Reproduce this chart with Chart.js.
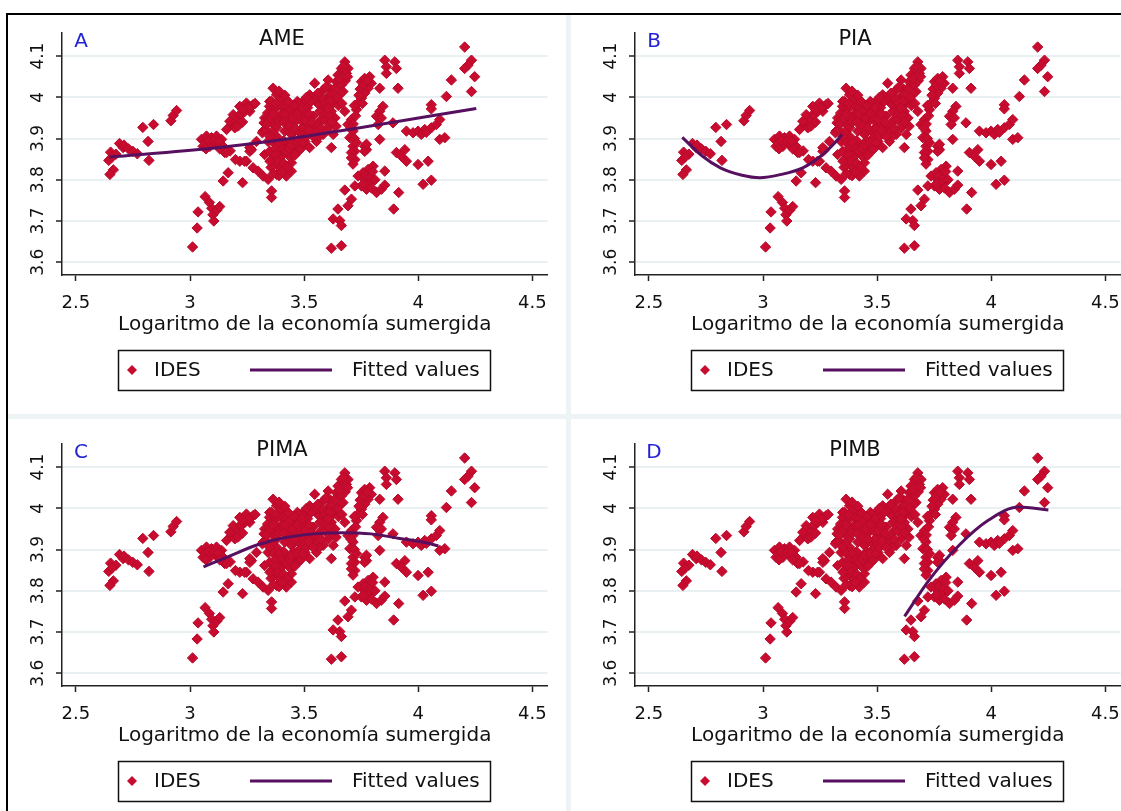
<!DOCTYPE html>
<html lang="es">
<head>
<meta charset="UTF-8">
<title>IDES y economía sumergida</title>
<script src="https://cdn.jsdelivr.net/npm/chart.js@4.4.1/dist/chart.umd.min.js"></script>
<style>
    html, body { margin: 0; padding: 0; background: #fff; }
    #page { position: relative; width: 1121px; height: 811px; overflow: hidden; background: #fff; }
    .panel { position: absolute; width: 560px; height: 415px; }
    .panel canvas { display: block; }
    .rule { position: absolute; }
</style>
<script>
// IDES (y) against log of the shadow economy (x); the same cloud in all four panels
const ides = [
    [2.644,3.847],[2.652,3.867],[2.664,3.824],[2.649,3.813],[2.675,3.862],[2.658,3.855],
    [2.691,3.888],[2.707,3.878],[2.711,3.884],[2.730,3.875],[2.749,3.869],[2.769,3.863],
    [2.793,3.927],[2.840,3.934],[2.816,3.893],[2.820,3.847],[2.916,3.943],[2.926,3.956],[2.941,3.968],
    [3.011,3.637],[3.031,3.683],[3.035,3.722],[3.066,3.759],[3.085,3.745],[3.095,3.731],
    [3.100,3.715],[3.104,3.700],[3.117,3.726],[3.130,3.735],
    [3.050,3.898],[3.072,3.906],[3.094,3.902],[3.116,3.906],[3.138,3.898],[3.057,3.881],
    [3.087,3.881],[3.116,3.886],[3.145,3.881],[3.152,3.866],[3.176,3.870],
    [3.065,3.890],[3.080,3.895],[3.105,3.893],[3.125,3.892],[3.070,3.875],[3.130,3.875],
    [3.160,3.922],[3.182,3.934],[3.196,3.946],[3.218,3.958],[3.189,3.958],[3.218,3.978],
    [3.247,3.986],[3.276,3.982],[3.262,3.966],[3.225,3.958],[3.174,3.942],[3.196,3.926],
    [3.240,3.966],[3.269,3.978],[3.255,3.975],[3.285,3.985],[3.230,3.970],[3.210,3.930],[3.230,3.940],
    [3.167,3.817],[3.145,3.797],[3.230,3.793],[3.218,3.845],[3.247,3.845],[3.262,3.869],
    [3.160,3.866],[3.276,3.829],[3.298,3.821],[3.320,3.809],[3.342,3.801],[3.357,3.773],
    [3.357,3.757],[3.327,3.861],[3.349,3.869],[3.371,3.841],[3.379,3.813],[3.401,3.857],
    [3.393,3.829],[3.422,3.809],[3.444,3.821],[3.444,3.841],[3.269,3.873],[3.291,3.893],
    [3.262,3.878],[3.199,3.849],[3.239,3.845],
    [3.364,4.022],[3.379,4.006],[3.401,3.990],[3.349,3.990],[3.327,3.950],[3.357,3.938],
    [3.379,3.926],[3.320,3.918],[3.342,3.893],[3.401,3.958],[3.430,3.950],[3.451,3.966],
    [3.473,3.978],[3.495,3.990],[3.524,4.006],[3.546,4.034],[3.583,4.018],[3.605,4.042],
    [3.612,4.006],[3.415,3.918],[3.444,3.910],[3.473,3.918],[3.510,3.934],[3.539,3.954],
    [3.568,3.966],[3.590,3.978],[3.619,3.966],[3.503,3.893],[3.524,3.878],[3.554,3.893],
    [3.583,3.910],[3.605,3.926],[3.627,3.910],[3.393,3.873],[3.422,3.886],[3.466,3.878],
    [3.451,3.861],[3.317,3.914],[3.332,3.922],[3.324,3.938],[3.340,3.962],[3.348,3.978],
    [3.395,3.990],[3.356,3.990],[3.402,3.978],[3.371,3.970],[3.402,3.958],
    [3.420,3.975],[3.435,3.930],[3.460,3.940],[3.480,3.955],[3.490,3.925],[3.455,3.895],
    [3.475,3.870],[3.430,3.860],[3.410,3.895],[3.380,3.905],[3.360,3.915],[3.500,3.960],
    [3.515,3.975],[3.530,3.925],[3.555,3.930],[3.575,3.945],[3.560,3.985],[3.545,3.995],
    [3.590,3.945],[3.600,3.995],[3.625,3.985],[3.635,3.950],[3.640,3.930],[3.500,3.910],
    [3.480,3.900],
    [3.380,3.950],[3.390,3.940],[3.410,3.940],[3.420,3.960],[3.440,3.970],[3.450,3.950],
    [3.460,3.925],[3.470,3.960],[3.485,3.945],[3.490,3.975],[3.505,3.945],[3.520,3.960],
    [3.535,3.940],[3.550,3.915],[3.565,3.905],[3.575,3.925],[3.585,3.990],[3.595,3.960],
    [3.610,3.955],[3.620,3.940],[3.630,3.995],[3.615,4.020],[3.595,4.025],[3.575,4.000],
    [3.560,4.010],[3.530,3.990],[3.510,4.000],[3.470,3.990],[3.455,3.980],[3.430,3.990],
    [3.415,4.005],[3.390,4.015],[3.375,3.985],[3.365,3.960],[3.345,3.945],[3.335,3.935],
    [3.350,3.905],[3.365,3.890],[3.375,3.875],[3.390,3.890],[3.405,3.875],[3.420,3.870],
    [3.435,3.875],[3.445,3.885],[3.460,3.860],[3.470,3.890],[3.485,3.875],[3.495,3.890],
    [3.510,3.905],[3.520,3.920],[3.540,3.905],[3.360,3.850],[3.375,3.860],[3.385,3.845],
    [3.410,3.840],[3.425,3.830],[3.390,3.810],[3.405,3.820],[3.355,3.830],[3.365,3.815],
    [3.350,3.845],
    [3.678,4.086],[3.663,4.070],[3.692,4.070],[3.685,4.058],[3.648,4.054],[3.641,4.038],
    [3.634,4.022],[3.663,4.030],[3.670,4.014],[3.619,4.006],[3.612,3.990],[3.605,3.974],
    [3.672,4.075],[3.680,4.040],[3.655,4.045],[3.690,4.050],[3.660,4.010],[3.645,4.000],
    [3.650,3.980],[3.665,3.985],
    [3.678,3.966],[3.707,3.946],[3.692,3.934],[3.714,3.918],[3.700,3.902],[3.714,3.881],
    [3.722,3.869],[3.765,3.881],[3.773,3.873],[3.751,4.038],[3.765,4.046],[3.787,4.050],
    [3.794,4.034],[3.780,4.022],[3.765,4.010],[3.751,3.998],[3.736,3.986],[3.729,3.970],
    [3.745,4.020],[3.760,4.030],[3.775,4.040],[3.740,4.005],[3.755,3.985],[3.720,3.980],
    [3.725,3.955],[3.715,3.935],[3.705,3.925],[3.720,3.900],[3.730,3.890],
    [3.831,4.022],[3.853,4.090],[3.860,4.074],[3.860,4.058],[3.897,4.086],[3.904,4.070],
    [3.911,4.022],[3.845,3.978],[3.831,3.966],[3.817,3.954],[3.838,3.950],[3.824,3.934],
    [3.889,3.938],[3.619,3.878],
    [3.948,3.918],[3.977,3.914],[3.999,3.918],[4.028,3.922],[4.057,3.926],[4.079,3.934],
    [4.094,3.946],[4.013,3.910],[4.057,3.982],[4.057,3.972],[4.094,3.898],[4.116,3.902],
    [4.123,4.002],[4.145,4.042],[4.203,4.122],[4.233,4.090],[4.218,4.078],[4.203,4.070],
    [4.247,4.050],[4.233,4.014],[4.035,3.915],
    [3.707,3.866],[3.722,3.849],[3.765,3.869],[3.904,3.866],[3.926,3.857],[3.948,3.845],
    [3.999,3.837],[4.043,3.845],[4.021,3.789],[4.057,3.799],[3.853,3.821],[3.802,3.833],
    [3.780,3.825],[3.758,3.817],[3.736,3.809],[3.765,3.801],[3.787,3.793],[3.751,3.785],
    [3.773,3.777],[3.722,3.785],[3.678,3.775],[3.817,3.769],[3.838,3.777],[3.853,3.787],
    [3.770,3.810],[3.790,3.805],[3.800,3.820],[3.810,3.800],[3.780,3.790],[3.795,3.780],[3.760,3.790],
    [3.914,3.769],[3.892,3.729],[3.707,3.753],[3.692,3.737],[3.648,3.729],[3.627,3.705],
    [3.656,3.701],[3.663,3.689],[3.619,3.634],[3.663,3.640],[3.941,3.873],[3.707,3.853],
    [3.773,3.886],[3.831,3.898],[3.714,3.838]
];

// fitted values, one curve per panel
const fitAME  = [[2.646,3.855],[3.106,3.877],[3.524,3.907],[3.731,3.925],[4.254,3.973]];
const fitPIA  = [[2.646,3.903],[2.735,3.857],[2.813,3.829],[2.908,3.811],[2.986,3.805],
                 [3.080,3.813],[3.174,3.829],[3.252,3.857],[3.315,3.890],[3.346,3.910]];
const fitPIMA = [[3.059,3.858],[3.168,3.883],[3.293,3.911],[3.418,3.929],[3.543,3.938],
                 [3.668,3.941],[3.793,3.938],[3.919,3.927],[4.028,3.917],[4.088,3.909]];
const fitPIMB = [[3.620,3.738],[3.729,3.827],[3.860,3.911],[3.990,3.972],[4.120,4.003],[4.250,3.996]];

const panelTitles  = ['AME', 'PIA', 'PIMA', 'PIMB'];
const panelLetters = ['A', 'B', 'C', 'D'];
const xTicks = [2.5, 3, 3.5, 4, 4.5];
const yTicks = [3.6, 3.7, 3.8, 3.9, 4, 4.1];
const xTitle = 'Logaritmo de la economía sumergida';
const legendLabels = ['IDES', 'Fitted values'];

const RED = '#c80c30';
const PURPLE = '#57105f';
const FONT = '"DejaVu Sans", sans-serif';

// title, panel letter and the boxed legend
const panelDecor = {
    id: 'panelDecor',
    afterDraw(chart, args, opts) {
        const ctx = chart.ctx;
        ctx.save();
        ctx.textBaseline = 'middle';
        ctx.textAlign = 'center';
        ctx.fillStyle = '#111';
        ctx.font = '21px ' + FONT;
        ctx.fillText(opts.title, 282, 40);
        ctx.fillStyle = '#2323d6';
        ctx.font = '20px ' + FONT;
        ctx.fillText(opts.letter, 81, 42);

        ctx.strokeStyle = '#111';
        ctx.lineWidth = 1.5;
        ctx.strokeRect(118.5, 350.5, 372, 40);
        ctx.fillStyle = RED;
        ctx.beginPath();
        ctx.moveTo(132, 365); ctx.lineTo(137, 370); ctx.lineTo(132, 375); ctx.lineTo(127, 370);
        ctx.closePath();
        ctx.fill();
        ctx.strokeStyle = PURPLE;
        ctx.lineWidth = 3;
        ctx.beginPath();
        ctx.moveTo(250, 370); ctx.lineTo(332, 370);
        ctx.stroke();
        ctx.fillStyle = '#111';
        ctx.textAlign = 'left';
        ctx.font = '20px ' + FONT;
        ctx.fillText(legendLabels[0], 154, 371);
        ctx.fillText(legendLabels[1], 352, 371);
        ctx.restore();
    }
};

function makePanel(id, i, fit) {
    const ctx = document.getElementById(id).getContext('2d');
    return new Chart(ctx, {
        type: 'scatter',
        data: {
            datasets: [
                {
                    type: 'line',
                    label: legendLabels[1],
                    data: fit.map(p => ({x: p[0], y: p[1]})),
                    borderColor: PURPLE,
                    borderWidth: 3,
                    pointRadius: 0,
                    fill: false,
                    cubicInterpolationMode: 'monotone',
                    order: 1
                },
                {
                    label: legendLabels[0],
                    data: ides.map(p => ({x: p[0], y: p[1]})),
                    pointStyle: 'rectRot',
                    pointRadius: 5.2,
                    backgroundColor: RED,
                    borderColor: '#b80a2a',
                    borderWidth: 1,
                    order: 2
                }
            ]
        },
        options: {
            responsive: false,
            animation: false,
            events: [],
            layout: { padding: { top: 33, left: 0, right: 12.5, bottom: 78 } },
            plugins: {
                legend: { display: false },
                tooltip: { enabled: false },
                panelDecor: { title: panelTitles[i], letter: panelLetters[i] }
            },
            scales: {
                x: {
                    type: 'linear', min: 2.439, max: 4.566,
                    afterBuildTicks: s => { s.ticks = xTicks.map(v => ({value: v})); },
                    afterFit: s => { s.height = 62; },
                    border: { color: '#222', width: 1.5 },
                    grid: { drawOnChartArea: false, drawTicks: true, tickLength: 6, tickColor: '#222', tickWidth: 1.5 },
                    ticks: { padding: 12, color: '#111', font: { size: 18, family: FONT }, maxRotation: 0, autoSkip: false,
                             callback: v => String(v) },
                    title: { display: true, text: xTitle, color: '#111', font: { size: 20, family: FONT }, padding: 0 }
                },
                y: {
                    type: 'linear', min: 3.569, max: 4.156,
                    afterBuildTicks: s => { s.ticks = yTicks.map(v => ({value: v})); },
                    afterFit: s => { s.width = 62; },
                    border: { color: '#222', width: 1.5 },
                    grid: { color: '#e9f0f2', lineWidth: 2, tickColor: '#222', tickLength: 6, tickWidth: 1.5 },
                    ticks: { padding: 4, minRotation: 90, maxRotation: 90, crossAlign: 'center', autoSkip: false,
                             color: '#111', font: { size: 17, family: FONT }, callback: v => String(v) }
                }
            }
        },
        plugins: [panelDecor]
    });
}

window.addEventListener('load', function () {
    makePanel('chartA', 0, fitAME);
    makePanel('chartB', 1, fitPIA);
    makePanel('chartC', 2, fitPIMA);
    makePanel('chartD', 3, fitPIMB);
});
</script>
</head>
<body>
<div id="page">
    <div class="rule" style="left:566px;top:15px;width:5px;height:796px;background:#eef3f5"></div>
    <div class="rule" style="left:8px;top:414px;width:1113px;height:5px;background:#eef3f5"></div>
    <div class="panel" style="left:0;top:0"><canvas id="chartA" width="560" height="415"></canvas></div>
    <div class="panel" style="left:573px;top:0"><canvas id="chartB" width="560" height="415"></canvas></div>
    <div class="panel" style="left:0;top:411px"><canvas id="chartC" width="560" height="415"></canvas></div>
    <div class="panel" style="left:573px;top:411px"><canvas id="chartD" width="560" height="415"></canvas></div>
    <div class="rule" style="left:6px;top:13px;width:1115px;height:2px;background:#000"></div>
    <div class="rule" style="left:6px;top:13px;width:2px;height:798px;background:#000"></div>
</div>
</body>
</html>
